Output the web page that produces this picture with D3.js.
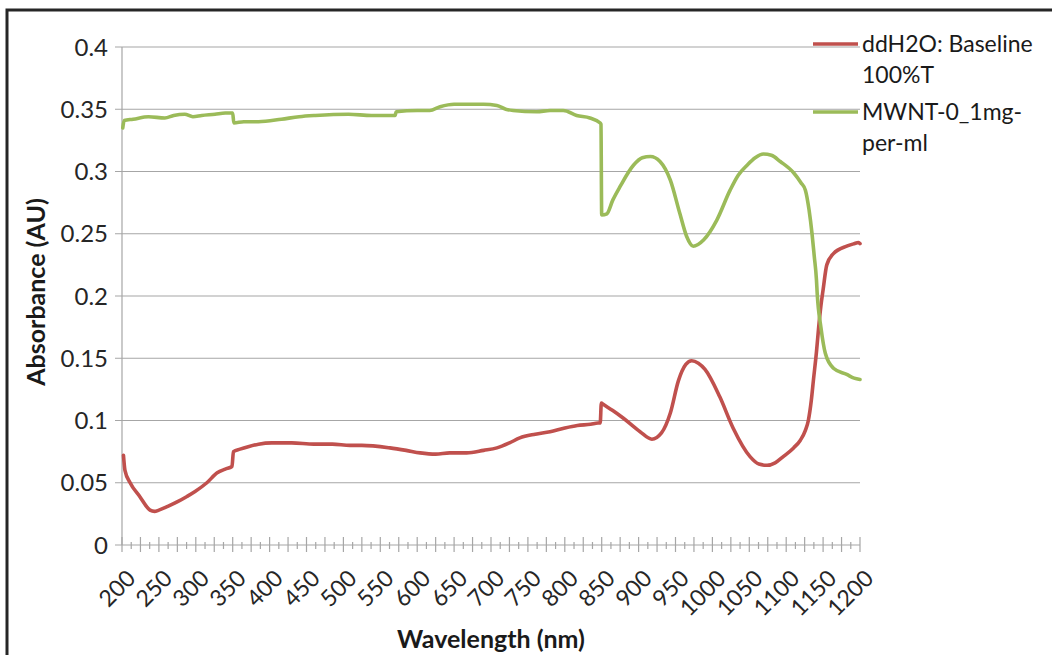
<!DOCTYPE html>
<html>
<head>
<meta charset="utf-8">
<script src="https://d3js.org/d3.v7.min.js"></script>
<style>
  body { margin: 0; background: #fff; }
  svg { font-family: Lato, "Open Sans", sans-serif; }
  .grid line { stroke: #a6a6a6; stroke-width: 1.2; }
  .series { fill: none; stroke-width: 3.6; stroke-linejoin: round; stroke-linecap: round; }
</style>
</head>
<body>
<svg width="1052" height="655"></svg>
<script>
// wavelength (nm) / absorbance (AU)
var redWl = [202, 204, 211, 224, 238, 244, 250, 262, 276, 288, 299, 315, 329, 340, 349, 351,
    360, 371, 385, 403, 430, 460, 485, 509, 525, 563, 585, 604, 625, 644, 667, 690, 708, 725,
    739, 760, 780, 800, 817, 835, 845, 848, 849.5, 852, 865, 879, 902, 918, 931, 943, 954, 964,
    972, 981, 990, 1010, 1028, 1051, 1063, 1074, 1085, 1096, 1110, 1119, 1126, 1130, 1134,
    1137, 1141, 1144, 1147, 1150, 1155, 1164, 1182, 1192, 1198, 1200];
var redAbs = [0.072, 0.060, 0.050, 0.039, 0.028, 0.027, 0.028, 0.031, 0.035, 0.039, 0.043,
    0.050, 0.058, 0.061, 0.063, 0.075, 0.077, 0.079, 0.081, 0.082, 0.082, 0.081, 0.081, 0.080,
    0.080, 0.078, 0.076, 0.074, 0.073, 0.074, 0.074, 0.076, 0.078, 0.082, 0.086, 0.089, 0.091,
    0.094, 0.096, 0.097, 0.098, 0.098, 0.114, 0.113, 0.108, 0.102, 0.091, 0.085, 0.090, 0.106,
    0.132, 0.145, 0.148, 0.146, 0.141, 0.119, 0.094, 0.071, 0.065, 0.064, 0.066, 0.071, 0.078,
    0.084, 0.092, 0.100, 0.116, 0.133, 0.155, 0.175, 0.192, 0.205, 0.225, 0.234, 0.240, 0.242,
    0.243, 0.242];

var greenWl = [201, 203, 215, 236, 258, 270, 285, 296, 308, 326, 340, 350, 351.5, 365, 385,
    416, 440, 462, 507, 538, 570, 571.5, 600, 617, 631, 650, 672, 690, 708, 720, 730, 762, 780,
    798, 816, 834, 848, 849, 850, 857, 865, 875, 893, 905, 916, 929, 943, 956, 965, 974, 988,
    1006, 1024, 1035, 1047, 1058, 1069, 1080, 1092, 1110, 1120, 1126, 1131, 1135, 1138, 1141,
    1142, 1147, 1153, 1164, 1182, 1192, 1200];
var greenAbs = [0.335, 0.341, 0.342, 0.344, 0.343, 0.345, 0.346, 0.344, 0.345, 0.346, 0.347,
    0.347, 0.339, 0.340, 0.340, 0.342, 0.344, 0.345, 0.346, 0.345, 0.345, 0.348, 0.349, 0.349,
    0.352, 0.354, 0.354, 0.354, 0.353, 0.350, 0.349, 0.348, 0.349, 0.349, 0.345, 0.343, 0.339,
    0.338, 0.265, 0.266, 0.277, 0.288, 0.305, 0.311, 0.312, 0.308, 0.293, 0.266, 0.248, 0.240,
    0.245, 0.261, 0.285, 0.297, 0.305, 0.311, 0.314, 0.313, 0.308, 0.299, 0.291, 0.285, 0.269,
    0.250, 0.232, 0.213, 0.202, 0.175, 0.154, 0.142, 0.137, 0.134, 0.133];

var xTicks = d3.range(200, 1201, 50);
var yTicks = [0, 0.05, 0.1, 0.15, 0.2, 0.25, 0.3, 0.35, 0.4];
var seriesNames = [["ddH2O: Baseline", "100%T"], ["MWNT-0_1mg-", "per-ml"]];
var seriesColors = ["#c0504d", "#9bbb59"];

var svg = d3.select("svg");

// chart frame
svg.append("rect")
    .attr("x", 7).attr("y", 10)
    .attr("width", 1060).attr("height", 670)
    .attr("fill", "none")
    .attr("stroke", "#262626")
    .attr("stroke-width", 3);

var x = d3.scaleLinear().domain([200, 1200]).range([122, 860]);
var y = d3.scaleLinear().domain([0, 0.4]).range([545, 47]);

// horizontal gridlines + y ticks
svg.append("g")
    .attr("class", "grid")
    .selectAll("line")
    .data(yTicks).enter()
    .append("line")
    .attr("x1", 115).attr("x2", 860)
    .attr("y1", function(d) { return y(d); })
    .attr("y2", function(d) { return y(d); });

svg.append("line")
    .attr("x1", 122).attr("x2", 122)
    .attr("y1", y(0.4)).attr("y2", y(0))
    .attr("stroke", "#a6a6a6").attr("stroke-width", 1.2);

svg.append("g")
    .selectAll("text")
    .data(yTicks).enter()
    .append("text")
    .attr("x", 108)
    .attr("y", function(d) { return y(d); })
    .attr("dy", "0.36em")
    .attr("text-anchor", "end")
    .attr("font-size", 24)
    .attr("fill", "#262626")
    .text(function(d) { return d; });

// x ticks: long every 25, short in between
var ticks = svg.append("g").attr("stroke", "#a6a6a6").attr("stroke-width", 1.2);
ticks.selectAll("line.major")
    .data(d3.range(200, 1201, 25)).enter()
    .append("line")
    .attr("x1", function(d) { return x(d); })
    .attr("x2", function(d) { return x(d); })
    .attr("y1", 537).attr("y2", 552);
ticks.selectAll("line.minor")
    .data(d3.range(212.5, 1200, 25)).enter()
    .append("line")
    .attr("x1", function(d) { return x(d); })
    .attr("x2", function(d) { return x(d); })
    .attr("y1", 542).attr("y2", 549);

svg.append("g")
    .selectAll("text")
    .data(xTicks).enter()
    .append("text")
    .attr("transform", function(d) { return "translate(" + (x(d) + 9) + ",574) rotate(-45)"; })
    .attr("text-anchor", "end")
    .attr("dy", "0.36em")
    .attr("font-size", 23)
    .attr("fill", "#262626")
    .text(function(d) { return d; });

// series
var line = d3.line()
    .x(function(d) { return x(d[0]); })
    .y(function(d) { return y(d[1]); })
    .curve(d3.curveMonotoneX);

svg.append("path")
    .datum(d3.zip(redWl, redAbs))
    .attr("class", "series")
    .attr("stroke", seriesColors[0])
    .attr("d", line);

svg.append("path")
    .datum(d3.zip(greenWl, greenAbs))
    .attr("class", "series")
    .attr("stroke", seriesColors[1])
    .attr("d", line);

// axis titles
svg.append("text")
    .attr("x", 491).attr("y", 648)
    .attr("text-anchor", "middle")
    .attr("font-size", 25).attr("font-weight", "bold")
    .attr("fill", "#1a1a1a")
    .text("Wavelength (nm)");

svg.append("text")
    .attr("transform", "translate(45,292) rotate(-90)")
    .attr("text-anchor", "middle")
    .attr("font-size", 25).attr("font-weight", "bold")
    .attr("fill", "#1a1a1a")
    .text("Absorbance (AU)");

// legend
var legend = svg.append("g")
    .selectAll("g")
    .data(seriesNames).enter()
    .append("g")
    .attr("transform", function(d, i) { return "translate(0," + (44 + i * 68) + ")"; });

legend.append("line")
    .attr("x1", 813).attr("x2", 858)
    .attr("y1", 0).attr("y2", 0)
    .attr("stroke", function(d, i) { return seriesColors[i]; })
    .attr("stroke-width", 3.4);

legend.append("text")
    .attr("x", 862).attr("y", 8)
    .attr("font-size", 23)
    .attr("fill", "#1a1a1a")
    .selectAll("tspan")
    .data(function(d) { return d; }).enter()
    .append("tspan")
    .attr("x", 862)
    .attr("dy", function(d, i) { return i ? 31 : 0; })
    .text(function(d) { return d; });
</script>
</body>
</html>
